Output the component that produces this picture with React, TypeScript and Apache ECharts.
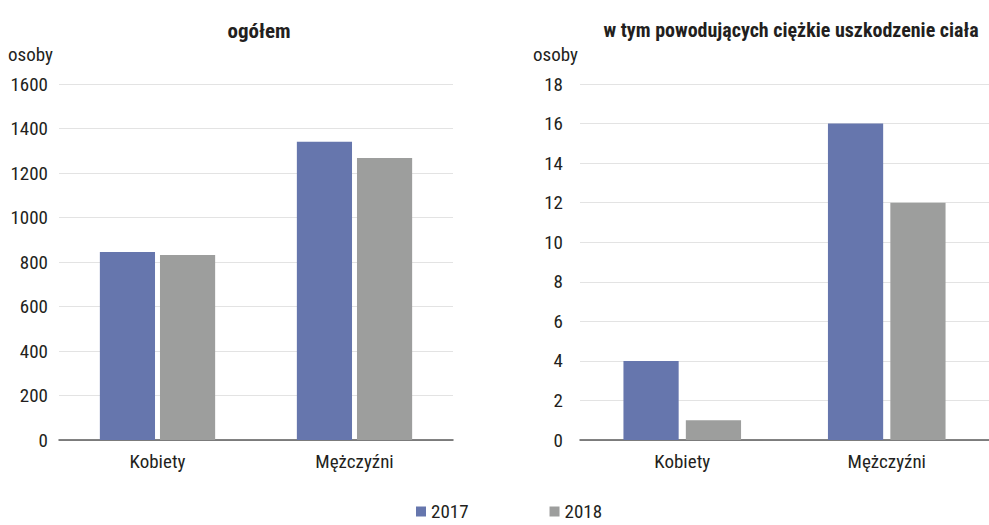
import React, { useEffect, useRef } from "react";
import * as echarts from "echarts";

const categories = ["Kobiety", "Mężczyźni"];
const years = ["2017", "2018"];
const totalValues2017 = [845, 1340];
const totalValues2018 = [831, 1267];
const severeValues2017 = [4, 16];
const severeValues2018 = [1, 12];
const titles = ["ogółem", "w tym powodujących ciężkie uszkodzenie ciała"];
const unitLabel = "osoby";

const FONT = "'Liberation Sans Narrow', 'Roboto Condensed', 'DejaVu Sans Condensed', 'Open Sans', sans-serif";
const BLUE = "#6676ad";
const GRAY = "#9d9e9d";
const TEXT = "#231f20";

export default function App() {
  const ref = useRef<HTMLDivElement>(null);
  useEffect(() => {
    if (!ref.current) return;
    const chart = echarts.init(ref.current, undefined, { renderer: "svg" });
    const xAxisBase = {
      type: "category" as const,
      data: categories,
      axisTick: { show: false },
      axisLine: { lineStyle: { color: "#5a5a5a", width: 1.5 } },
      axisLabel: { color: TEXT, fontSize: 19, fontFamily: FONT, margin: 12 },
    };
    const yAxisBase = {
      type: "value" as const,
      axisLine: { show: false },
      axisTick: { show: false },
      splitLine: { lineStyle: { color: "#e3e3e3", width: 1.2 } },
    };
    const yLabel = (margin: number) => ({
      color: TEXT,
      fontSize: 19,
      fontFamily: FONT,
      margin,
      formatter: (v: number) => String(v),
    });
    chart.setOption({
      animation: false,
      textStyle: { fontFamily: FONT },
      title: [
        { text: titles[0], left: 254, top: 15, textAlign: "center", textStyle: { fontSize: 21, fontWeight: "bold", color: TEXT, fontFamily: FONT } },
        { text: titles[1], left: 786, top: 15, textAlign: "center", textStyle: { fontSize: 20, fontWeight: "bold", color: TEXT, fontFamily: FONT } },
      ],
      legend: {
        top: 497,
        left: 411,
        itemGap: 81,
        itemWidth: 10,
        itemHeight: 10,
        icon: "rect",
        data: years,
        textStyle: { fontSize: 19, color: TEXT, fontFamily: FONT },
      },
      grid: [
        { left: 59, right: 536, top: 84, bottom: 85 },
        { left: 580, right: -10, top: 84, bottom: 85 },
      ],
      xAxis: [
        { ...xAxisBase, gridIndex: 0 },
        { ...xAxisBase, gridIndex: 1 },
      ],
      yAxis: [
        { ...yAxisBase, gridIndex: 0, min: 0, max: 1600, interval: 200, axisLabel: yLabel(11) },
        { ...yAxisBase, gridIndex: 1, min: 0, max: 18, interval: 2, axisLabel: yLabel(17) },
      ],
      graphic: [
        { type: "text", left: 8, top: 45, style: { text: unitLabel, fontSize: 19, fill: TEXT, fontFamily: FONT } },
        { type: "text", left: 533, top: 45, style: { text: unitLabel, fontSize: 19, fill: TEXT, fontFamily: FONT } },
      ],
      series: [
        { name: years[0], type: "bar", xAxisIndex: 0, yAxisIndex: 0, data: totalValues2017, itemStyle: { color: BLUE }, barWidth: "28%", barGap: "9%" },
        { name: years[1], type: "bar", xAxisIndex: 0, yAxisIndex: 0, data: totalValues2018, itemStyle: { color: GRAY }, barWidth: "28%", barGap: "9%" },
        { name: years[0], type: "bar", xAxisIndex: 1, yAxisIndex: 1, data: severeValues2017, itemStyle: { color: BLUE }, barWidth: "27%", barGap: "13%" },
        { name: years[1], type: "bar", xAxisIndex: 1, yAxisIndex: 1, data: severeValues2018, itemStyle: { color: GRAY }, barWidth: "27%", barGap: "13%" },
      ],
    });
    return () => chart.dispose();
  }, []);
  return <div ref={ref} style={{ width: 989, height: 525, position: "absolute", left: 0, top: 0 }} />;
}
